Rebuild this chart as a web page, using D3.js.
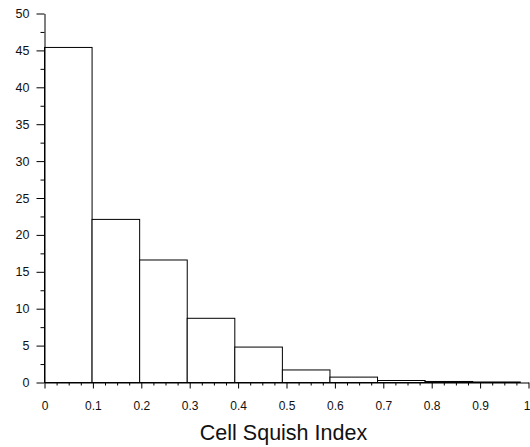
<!DOCTYPE html>
<html>
<head>
<meta charset="utf-8">
<script src="https://cdn.jsdelivr.net/npm/d3@7"></script>
<style>
  html, body { margin: 0; padding: 0; background: #fff; }
  svg { display: block; }
  text { font-family: "Liberation Sans", Arial, sans-serif; fill: #111; }
</style>
</head>
<body>
<svg id="chart" width="530" height="447"></svg>
<script>
// Histogram of the cell squish index (percentage of cells per bin)
const binEdges = [0, 0.0983, 0.1966, 0.2949, 0.3932, 0.4915, 0.5898, 0.6881, 0.7864, 0.8847, 0.983];
const binPercent = [45.4, 22.1, 16.6, 8.7, 4.8, 1.7, 0.73, 0.27, 0.14, 0.07];

const xMajorTicks = [0, 0.1, 0.2, 0.3, 0.4, 0.5, 0.6, 0.7, 0.8, 0.9, 1];
const xTickLabels = ["0", "0.1", "0.2", "0.3", "0.4", "0.5", "0.6", "0.7", "0.8", "0.9", "1"];
const yMajorTicks = [0, 5, 10, 15, 20, 25, 30, 35, 40, 45, 50];
const xTitle = "Cell Squish Index";

const svg = d3.select("#chart");

const x = d3.scaleLinear().domain([0, 1]).range([44.5, 528.5]);
const y = d3.scaleLinear().domain([0, 50]).range([382.5, 13.5]);

// minor tick positions between the labelled ticks
const xMinor = d3.range(0, 1.0001, 0.025).filter(v => Math.abs(v * 10 - Math.round(v * 10)) > 1e-6);
const yMinor = d3.range(0, 50.001, 2.5).filter(v => v % 5 !== 0);

// bars
const bins = binPercent.map((v, i) => ({ x0: binEdges[i], x1: binEdges[i + 1], v }));
svg.append("g")
  .selectAll("rect")
  .data(bins)
  .join("rect")
  .attr("x", d => x(d.x0))
  .attr("width", d => x(d.x1) - x(d.x0))
  .attr("y", d => y(d.v))
  .attr("height", d => y(0) - y(d.v))
  .attr("fill", "#fff")
  .attr("stroke", "#000")
  .attr("stroke-width", 1);

// x axis
const xAxisG = svg.append("g").attr("transform", `translate(0,${y(0)})`);
xAxisG.append("g")
  .call(d3.axisBottom(x).tickValues(xMinor).tickSize(3).tickFormat(""))
  .call(g => g.select(".domain").remove());
xAxisG.append("g")
  .call(d3.axisBottom(x).tickValues(xMajorTicks).tickSize(6).tickSizeOuter(0)
    .tickFormat((d, i) => xTickLabels[i]))
  .call(g => g.selectAll("text")
    .attr("y", 27)
    .attr("dy", "0")
    .style("font-size", "12px")
    .style("fill", "#111"))
  .call(g => g.selectAll(".tick:last-of-type text")
    .attr("text-anchor", "end")
    .attr("x", 1.5));

// y axis
const yAxisG = svg.append("g").attr("transform", `translate(${x(0)},0)`);
yAxisG.append("g")
  .call(d3.axisLeft(y).tickValues(yMinor).tickSize(4).tickFormat(""))
  .call(g => g.select(".domain").remove());
yAxisG.append("g")
  .call(d3.axisLeft(y).tickValues(yMajorTicks).tickSize(8).tickSizeOuter(0))
  .call(g => g.selectAll("text")
    .attr("x", -15)
    .style("font-size", "12.5px")
    .style("fill", "#111"));

svg.selectAll(".tick line, .domain").attr("stroke", "#000");

// axis title
svg.append("text")
  .attr("x", 283.5)
  .attr("y", 440)
  .attr("text-anchor", "middle")
  .style("font-size", "21.5px")
  .text(xTitle);
</script>
</body>
</html>
